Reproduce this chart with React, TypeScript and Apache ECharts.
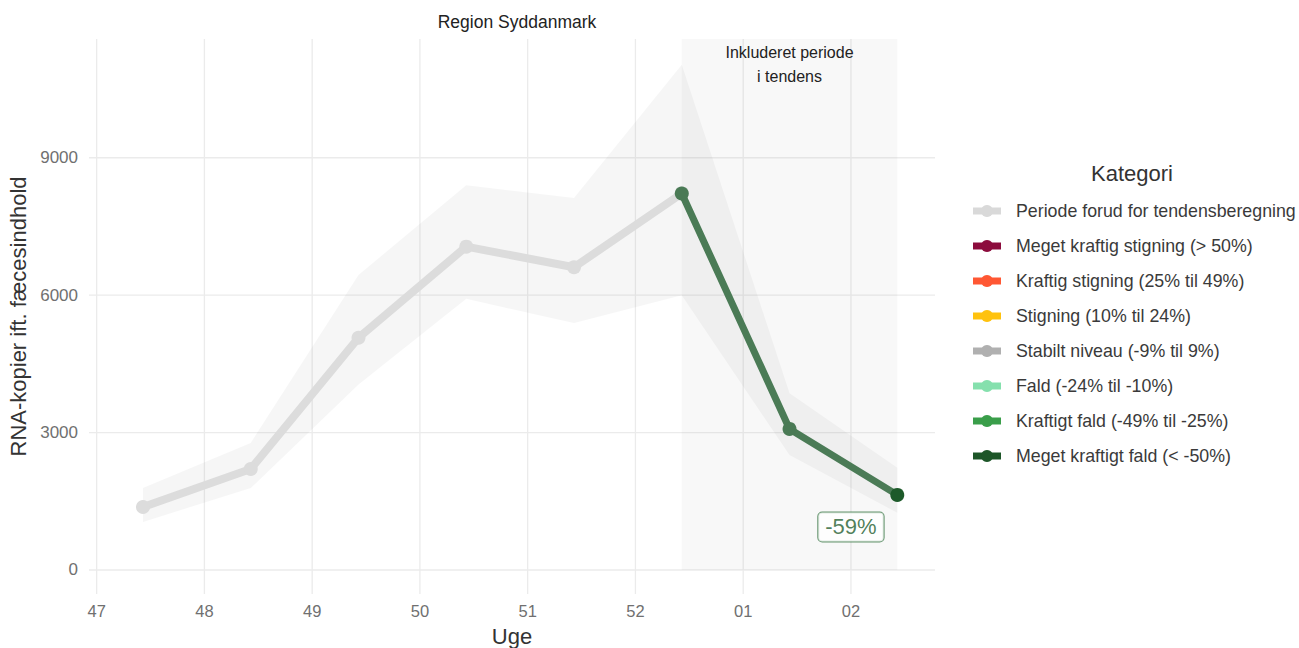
import React, { useEffect, useRef } from "react";
import * as echarts from "echarts";

// ---- Data ----
const weekLabels = ["47", "48", "49", "50", "51", "52", "01", "02"];
const weekTicks = [0, 1, 2, 3, 4, 5, 6, 7];
const pointX = [0.43, 1.43, 2.43, 3.43, 4.43, 5.43, 6.43, 7.43];
const values = [1375, 2205, 5070, 7060, 6610, 8220, 3080, 1640];
const upper = [1790, 2775, 6440, 8400, 8120, 11030, 3860, 2230];
const lower = [1050, 1790, 4050, 5920, 5390, 6000, 2510, 1250];
const yTicks = [0, 3000, 6000, 9000];
const trendStart = 5; // index where trend period starts
const changeLabel = "-59%";
const changeLabelPos = [7.0, 940];
const categories = [
  "Periode forud for tendensberegning",
  "Meget kraftig stigning (> 50%)",
  "Kraftig stigning (25% til 49%)",
  "Stigning (10% til 24%)",
  "Stabilt niveau (-9% til 9%)",
  "Fald (-24% til -10%)",
  "Kraftigt fald (-49% til -25%)",
  "Meget kraftigt fald (< -50%)",
];
const categoryColors = [
  "#d9d9d9",
  "#8c0c3d",
  "#ff5733",
  "#ffc20e",
  "#b0b0b0",
  "#85e0ad",
  "#3a9e4a",
  "#1d5628",
];

const X_MIN = -0.071;
const X_MAX = 7.78;
const Y_MIN = -524;
const Y_MAX = 11593;
const FONT = "'Liberation Sans', Arial, sans-serif";

export default function App() {
  const ref = useRef<HTMLDivElement>(null);
  useEffect(() => {
    if (!ref.current) return;
    const chart = echarts.init(ref.current, null, { renderer: "svg" });

    const greyData = pointX.slice(0, trendStart + 1).map((x, i) => [x, values[i]]);
    const trendData = pointX.slice(trendStart).map((x, i) => [x, values[trendStart + i]]);

    const legendChildren: any[] = [];
    legendChildren.push({
      type: "text",
      x: 1132,
      y: 173,
      style: { text: "Kategori", font: `22px ${FONT}`, fill: "#333", align: "center", verticalAlign: "middle" },
    });
    categories.forEach((c, i) => {
      const cy = 211 + i * 35;
      legendChildren.push({
        type: "rect",
        shape: { x: 973, y: cy - 3.5, width: 28, height: 7 },
        style: { fill: categoryColors[i] },
      });
      legendChildren.push({
        type: "circle",
        shape: { cx: 987, cy, r: 6 },
        style: { fill: categoryColors[i] },
      });
      legendChildren.push({
        type: "text",
        x: 1016,
        y: cy,
        style: { text: c, font: `17.8px ${FONT}`, fill: "#3a3a3a", align: "left", verticalAlign: "middle" },
      });
    });

    const option: any = {
      animation: false,
      backgroundColor: "#ffffff",
      title: {
        text: "Region Syddanmark",
        left: 512,
        top: 8,
        textAlign: "center",
        textStyle: { fontFamily: FONT, fontSize: 17.5, fontWeight: "normal", color: "#222" },
      },
      grid: { left: 89, right: 364, top: 39, bottom: 54, containLabel: false, outerBoundsMode: "none" },
      xAxis: {
        type: "value",
        min: X_MIN,
        max: X_MAX,
        name: "Uge",
        nameLocation: "middle",
        nameGap: 31,
        nameTextStyle: { fontFamily: FONT, fontSize: 22, color: "#333" },
        axisLine: { show: false },
        axisTick: { show: false },
        splitLine: { show: false },
        axisLabel: {
          customValues: weekTicks,
          formatter: (v: number) => weekLabels[Math.round(v)] ?? "",
          fontFamily: FONT,
          fontSize: 16.5,
          color: "#707070",
          margin: 8,
        },
      },
      yAxis: {
        type: "value",
        min: Y_MIN,
        max: Y_MAX,
        name: "RNA-kopier ift. fæcesindhold",
        nameLocation: "middle",
        nameGap: 56,
        nameTextStyle: { fontFamily: FONT, fontSize: 22, color: "#333" },
        axisLine: { show: false },
        axisTick: { show: false },
        splitLine: { show: false },
        axisLabel: {
          customValues: yTicks,
          formatter: (v: number) => String(v),
          fontFamily: FONT,
          fontSize: 17,
          color: "#707070",
          margin: 11,
        },
      },
      graphic: [{ type: "group", children: legendChildren }],
      series: [
        // vertical gridlines
        {
          type: "custom",
          silent: true,
          z: 0,
          clip: false,
          data: weekTicks.map((t) => [t, 0]),
          renderItem: (params: any, api: any) => {
            const x = api.value(0);
            const a = api.coord([x, Y_MIN]);
            const b = api.coord([x, Y_MAX]);
            return { type: "line", shape: { x1: a[0], y1: a[1], x2: b[0], y2: b[1] }, style: { stroke: "#ebebeb", lineWidth: 1.3 } };
          },
        },
        // horizontal gridlines
        {
          type: "custom",
          silent: true,
          z: 0,
          clip: false,
          data: yTicks.map((t) => [0, t]),
          renderItem: (params: any, api: any) => {
            const y = api.value(1);
            const a = api.coord([X_MIN, y]);
            const b = api.coord([X_MAX, y]);
            return { type: "line", shape: { x1: a[0], y1: a[1], x2: b[0], y2: b[1] }, style: { stroke: "#ebebeb", lineWidth: 1.3 } };
          },
        },
        // trend period shaded rect + text
        {
          type: "custom",
          silent: true,
          z: 1,
          clip: false,
          data: [[pointX[trendStart], pointX[pointX.length - 1]]],
          renderItem: (params: any, api: any) => {
            const p1 = api.coord([api.value(0), 0]);
            const p2 = api.coord([api.value(1), Y_MAX]);
            return {
              type: "group",
              children: [
                {
                  type: "rect",
                  shape: { x: p1[0], y: p2[1], width: p2[0] - p1[0], height: p1[1] - p2[1] },
                  style: { fill: "rgba(128,128,128,0.055)" },
                },
                {
                  type: "text",
                  x: (p1[0] + p2[0]) / 2,
                  y: p2[1] + 25,
                  style: {
                    text: "Inkluderet periode\ni tendens",
                    font: `16px ${FONT}`,
                    fill: "#222",
                    align: "center",
                    verticalAlign: "middle",
                    lineHeight: 24,
                  },
                },
              ],
            };
          },
        },
        // ribbon
        {
          type: "custom",
          silent: true,
          z: 1,
          data: [[0, 0]],
          renderItem: (params: any, api: any) => {
            const pts: number[][] = [];
            pointX.forEach((x, i) => pts.push(api.coord([x, upper[i]])));
            for (let i = pointX.length - 1; i >= 0; i--) pts.push(api.coord([pointX[i], lower[i]]));
            return { type: "polygon", shape: { points: pts }, style: { fill: "rgba(128,128,128,0.07)" } };
          },
        },
        // grey pre-trend line
        {
          type: "line",
          z: 3,
          data: greyData,
          symbol: "circle",
          symbolSize: 14,
          lineStyle: { color: "#dcdcdc", width: 8 },
          itemStyle: { color: "#dcdcdc" },
        },
        // trend line
        {
          type: "line",
          z: 4,
          data: trendData.map((d, i) => ({
            value: d,
            itemStyle: { color: i === trendData.length - 1 ? "#1d5a2a" : "#4a7a55" },
          })),
          symbol: "circle",
          symbolSize: 14,
          lineStyle: { color: "#4b7b56", width: 7 },
          itemStyle: { color: "#4a7a55" },
        },
        // change label
        {
          type: "scatter",
          z: 5,
          symbolSize: 0,
          data: [changeLabelPos],
          label: {
            show: true,
            position: "inside",
            formatter: changeLabel,
            fontFamily: FONT,
            fontSize: 22,
            color: "#245f2f",
            backgroundColor: "#ffffff",
            borderColor: "#3f7a4a",
            borderWidth: 1,
            borderRadius: 4,
            padding: [4, 7, 3, 7],
          },
        },
      ],
    };
    chart.setOption(option);
    return () => chart.dispose();
  }, []);
  return (
    <div
      ref={ref}
      style={{ position: "fixed", left: 0, top: 0, width: 1299, height: 648, background: "#fff" }}
    />
  );
}
